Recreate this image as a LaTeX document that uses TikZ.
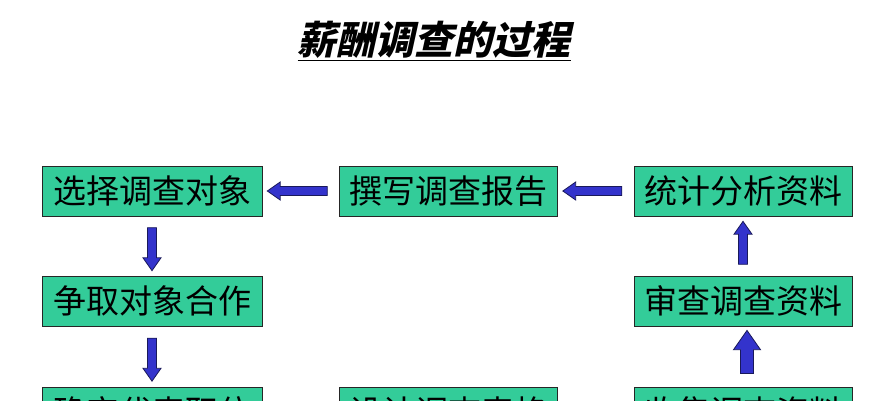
\documentclass[tikz,border=0pt]{standalone}
\usepackage{fontspec}
\newfontfamily\cjk{Noto Sans CJK SC}
\newfontfamily\titlecjk[FakeSlant=0.22]{Noto Sans CJK SC}
\usetikzlibrary{positioning,shapes.arrows}

\definecolor{boxgreen}{RGB}{51,204,153}
\definecolor{arrowblue}{RGB}{51,51,204}
\definecolor{arrowline}{RGB}{25,25,90}

\tikzset{
    stepbox/.style={draw=black!85, fill=boxgreen, line width=1pt,
        minimum width=220pt, minimum height=50pt, inner sep=0pt,
        font=\cjk\fontsize{33}{33}\selectfont},
    blockarrow/.style={single arrow, draw=arrowline, fill=arrowblue,
        line width=0.8pt, inner xsep=0pt, inner ysep=4pt, minimum width=18pt,
        single arrow head extend=4.5pt, single arrow tip angle=70,
        sloped, allow upside down}
}

\begin{document}
\begin{tikzpicture}[x=1pt,y=-1pt]
        \clip (0,0) rectangle (877,400);
        \node (title) at (434,41)
            {\titlecjk\bfseries\fontsize{39}{39}\selectfont\underline{薪酬调查的过程}};
        \node[stepbox] (select) at (152,191) {选择调查对象};
            \node[stepbox, minimum width=218pt, right=76pt of select] (report) {撰写调查报告};
            \node[stepbox, minimum width=218pt, right=76pt of report] (analyse) {统计分析资料};
        \node[stepbox, below=59pt of select] (gain) {争取对象合作};
            \node[stepbox, minimum width=218pt, below=59pt of analyse] (review) {审查调查资料};
        \node[stepbox, below=60pt of gain] (confirm) {确定代表职位};
            \node[stepbox, minimum width=218pt, right=76pt of confirm] (design) {设计调查表格};
            \node[stepbox, minimum width=218pt, right=76pt of design] (collect) {收集调查资料};
        \path (report) -- node[blockarrow, minimum height=60pt] {} (select);
        \path (analyse) -- node[blockarrow, minimum height=59pt] {} (report);
        \path (select) -- node[blockarrow, minimum height=43pt] {} (gain);
        \path (gain) -- node[blockarrow, minimum height=43pt] {} (confirm);
        \path (review) -- node[blockarrow, minimum height=43pt] {} (analyse);
        \path ([xshift=4pt]collect.north) -- node[blockarrow, minimum height=43pt,
            inner ysep=6pt, minimum width=27pt, single arrow head extend=7pt] {}
            ([xshift=4pt]review.south);
\end{tikzpicture}
\end{document}
